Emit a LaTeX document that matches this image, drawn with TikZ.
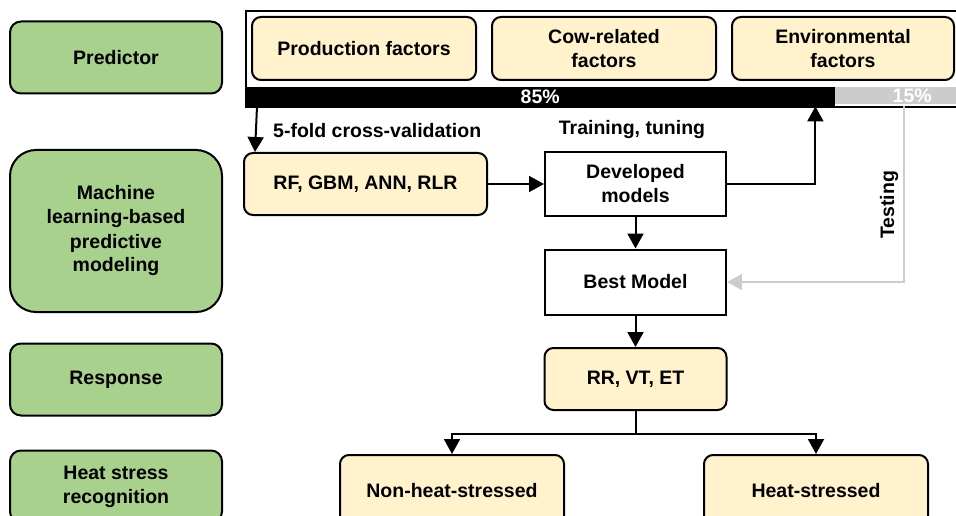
\documentclass[tikz,border=0pt]{standalone}
\usepackage{fontspec}
\setmainfont{Liberation Sans}
\usetikzlibrary{arrows.meta}
\definecolor{stagegreen}{RGB}{169,209,142}
\definecolor{itembeige}{RGB}{255,242,204}
\definecolor{testgray}{RGB}{204,204,204}
\tikzset{
  base/.style={draw=black, line width=2pt, align=center, inner sep=0pt,
    font=\fontsize{19.5}{24}\selectfont\bfseries},
  stage/.style={base, fill=stagegreen, rounded corners=11pt, minimum width=212pt},
  item/.style={base, fill=itembeige, rounded corners=9pt},
  plain/.style={base, fill=white},
  arr/.style={line width=2pt, -{Triangle[length=15pt,width=16pt]}},
  grayarr/.style={line width=2pt, draw=testgray, -{Triangle[length=15pt,width=16pt,fill=testgray]}},
  lbl/.style={font=\fontsize{19.5}{24}\selectfont\bfseries, inner sep=0pt},
}
\begin{document}
\begin{tikzpicture}[x=1pt, y=-1pt]
\useasboundingbox (0,0) rectangle (956,516);
\clip (0,0) rectangle (956,516);

% stage labels on the left
\node[stage, minimum height=72pt] (predictor) at (116,57.5) {Predictor};
\node[stage, minimum height=162pt, rounded corners=26pt] (ml) at (116,231)
  {Machine\\learning-based\\predictive\\modeling};
\node[stage, minimum height=72pt] (response) at (116,379.5) {Response};
\node[stage, minimum height=72pt] (recog) at (116,486.5) {Heat stress\\recognition};

% predictor frame with data split bar
\node[base, fill=white, minimum width=720pt, minimum height=96pt, anchor=north west] (frame) at (245,10) {};
\node[item, minimum width=224pt, minimum height=63pt] (prod) at (364,48.5) {Production factors};
\node[item, minimum width=224pt, minimum height=63pt] (cow) at (604,48.5) {Cow-related\\factors};
\node[item, minimum width=222pt, minimum height=63pt] (env) at (843,48.5) {Environmental\\factors};
\node[fill=black, text=white, lbl, minimum width=590pt, minimum height=19pt, anchor=north west] (bar85) at (245,87) {85\%};
\node[fill=testgray, text=white, lbl, minimum width=154pt, minimum height=17pt, anchor=north west] (bar15) at (835,87) {15\%};

% modelling steps
\node[item, minimum width=243pt, minimum height=62pt] (rf) at (365.5,184) {RF, GBM, ANN, RLR};
\node[plain, minimum width=181pt, minimum height=63pt] (dev) at (635.5,184) {Developed\\models};
\node[plain, minimum width=181pt, minimum height=65pt] (best) at (635.5,282) {Best Model};
\node[item, minimum width=182pt, minimum height=62pt] (rr) at (635.5,379) {RR, VT, ET};
\node[item, minimum width=224pt, minimum height=72pt] (non) at (452,491) {Non-heat-stressed};
\node[item, minimum width=224pt, minimum height=72pt] (heat) at (816,491) {Heat-stressed};

% annotations
\node[lbl, anchor=west] (cv) at (273,131) {5-fold cross-validation};
\node[lbl] (tt) at (632,130) {Training, tuning};
\node[lbl, rotate=90] (testing) at (889,205) {Testing};

% connectors
\draw[arr] ([xshift=12pt]bar85.south west) -- ([xshift=12pt]rf.north west);
\draw[arr] (rf) -- (dev);
\draw[arr] (dev.east) -| ([xshift=-20pt]bar85.south east);
\draw[arr] (dev) -- (best);
\draw[grayarr] ([xshift=69pt]bar85.south east) |- (best.east);
\draw[arr] (best) -- (rr);
\draw[arr] (rr.south) -- ++(0,23) -| (non.north);
\draw[arr] (rr.south) -- ++(0,23) -| (heat.north);
\end{tikzpicture}
\end{document}
